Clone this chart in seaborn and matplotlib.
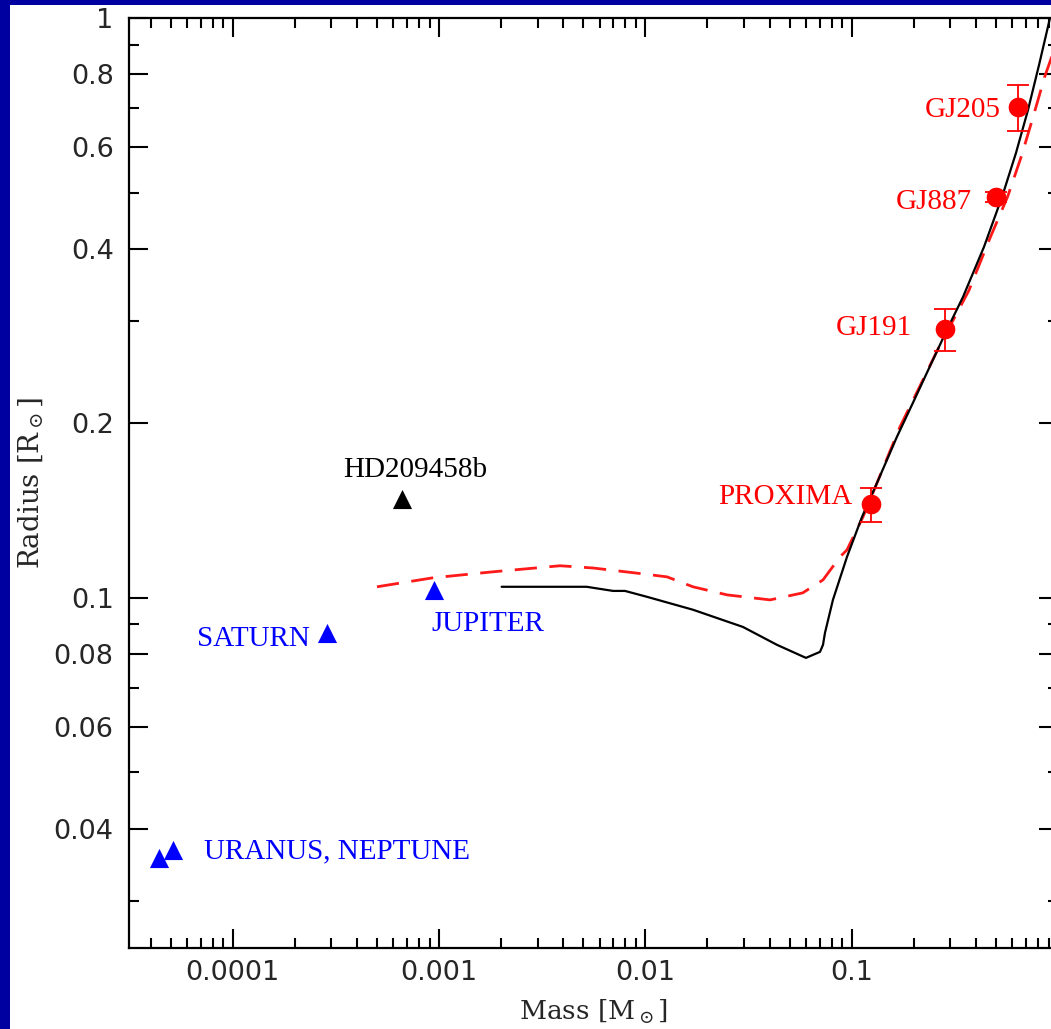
import numpy as np
import pandas as pd
import matplotlib
matplotlib.use("Agg")
import matplotlib.pyplot as plt
import seaborn as sns
from matplotlib.patches import Rectangle
from matplotlib.ticker import FixedLocator, FixedFormatter, NullFormatter

# Solar-system giant planets (mass in M_sun, radius in R_sun)
planet_names = ["URANUS", "NEPTUNE", "SATURN", "JUPITER"]
planet_mass = [4.37e-5, 5.15e-5, 2.86e-4, 9.5e-4]
planet_radius = [0.0356, 0.0367, 0.087, 0.103]

# Transiting hot Jupiter
hd_name = ["HD209458b"]
hd_mass = [6.6e-4]
hd_radius = [0.148]

# Low-mass stars with measured radii
star_names = ["PROXIMA", "GJ191", "GJ887", "GJ205"]
star_mass = [0.124, 0.283, 0.50, 0.64]
star_radius = [0.145, 0.291, 0.491, 0.702]
star_radius_err = [0.010, 0.024, 0.010, 0.063]

# Model mass-radius relation (solid)
solid_mass = [0.00201, 0.00519, 0.00697, 0.00796, 0.0102, 0.0170, 0.0297,
              0.0434, 0.0600, 0.0702, 0.0726, 0.0742, 0.0811, 0.0949,
              0.1122, 0.1327, 0.1656, 0.198, 0.2896, 0.3463, 0.4377,
              0.5353, 0.6257, 0.7154, 0.8091, 0.9145, 0.978]
solid_radius = [0.1045, 0.1045, 0.1028, 0.1028, 0.1004, 0.0954, 0.0891,
                0.0830, 0.0788, 0.0807, 0.0830, 0.0870, 0.0992, 0.1177,
                0.1379, 0.1579, 0.1895, 0.2169, 0.290, 0.3303, 0.4029,
                0.4912, 0.5852, 0.694, 0.8297, 1.0, 1.126]

# Model mass-radius relation (dashed)
dashed_mass = [0.000500, 0.000934, 0.001825, 0.003855, 0.00557, 0.00974,
               0.01273, 0.0170, 0.02487, 0.0402, 0.0579, 0.0726, 0.0878,
               0.0949, 0.1134, 0.1327, 0.1713, 0.268, 0.3700, 0.4650,
               0.5700, 0.6650, 0.7600, 0.8600, 1.0]
dashed_radius = [0.1045, 0.1083, 0.1109, 0.1136, 0.1126, 0.1100,
                 0.1087, 0.1045, 0.1012, 0.0992, 0.1020, 0.1074, 0.1177,
                 0.121, 0.1379, 0.1579, 0.1971, 0.273, 0.3390, 0.4150,
                 0.4920, 0.5780, 0.6780, 0.7900, 0.920]

# Tick layout
y_major = [0.04, 0.06, 0.08, 0.1, 0.2, 0.4, 0.6, 0.8, 1.0]
y_major_labels = ["0.04", "0.06", "0.08", "0.1", "0.2", "0.4", "0.6", "0.8", "1"]
y_minor = [0.03, 0.05, 0.07, 0.09, 0.3, 0.5, 0.7, 0.9]
x_major = [1e-4, 1e-3, 1e-2, 1e-1, 1.0]
x_major_labels = ["0.0001", "0.001", "0.01", "0.1", ""]

sns.set_style("ticks")
plt.rcParams["font.family"] = ["DejaVu Sans"]
plt.rcParams["mathtext.fontset"] = "dejavuserif"

W, H = 1051, 1029
fig = plt.figure(figsize=(W / 100, H / 100), dpi=100)
fig.patch.set_facecolor("#0000a0")
fig.patches.append(Rectangle((10 / W, 0), 1 - 10 / W, 1 - 5 / H,
                             transform=fig.transFigure, facecolor="white",
                             edgecolor="none", zorder=-5))

ax_l, ax_r, ax_t, ax_b = 129, 1058, 18, 948
ax = fig.add_axes([ax_l / W, 1 - ax_b / H, (ax_r - ax_l) / W, (ax_b - ax_t) / H])
ax.set_zorder(2)
ax.set_facecolor("white")
ax.set_xscale("log")
ax.set_yscale("log")

solid_df = pd.DataFrame({"mass": solid_mass, "radius": solid_radius})
dashed_df = pd.DataFrame({"mass": dashed_mass, "radius": dashed_radius})
sns.lineplot(data=dashed_df, x="mass", y="radius", sort=False, estimator=None,
             color="#ff1a1a", lw=2.0, ax=ax, zorder=3)
ax.lines[-1].set_dashes((8, 4.5))
sns.lineplot(data=solid_df, x="mass", y="radius", sort=False, estimator=None,
             color="black", lw=1.6, ax=ax, zorder=4)

planets_df = pd.DataFrame({"mass": planet_mass, "radius": planet_radius})
sns.scatterplot(data=planets_df, x="mass", y="radius", marker="^", s=190,
                color="#0000ff", linewidth=0, ax=ax, zorder=5)
hd_df = pd.DataFrame({"mass": hd_mass, "radius": hd_radius})
sns.scatterplot(data=hd_df, x="mass", y="radius", marker="^", s=190,
                color="black", linewidth=0, ax=ax, zorder=5)

ax.errorbar(star_mass, star_radius, yerr=star_radius_err, fmt="none",
            ecolor="#ff0000", elinewidth=1.3, capsize=8, capthick=1.3, zorder=5)
stars_df = pd.DataFrame({"mass": star_mass, "radius": star_radius})
sns.scatterplot(data=stars_df, x="mass", y="radius", marker="o", s=200,
                color="#ff0000", linewidth=0, ax=ax, zorder=6)

# Labels anchored to their markers (offsets in points)
lab_font = dict(family="Liberation Serif", size=21)


def label(text, x, y, dx, dy, color, ha):
    ax.annotate(text, xy=(x, y), xytext=(dx, dy), textcoords="offset points",
                ha=ha, va="center", color=color, **lab_font)


label("URANUS, NEPTUNE", planet_mass[1], planet_radius[1], 22.3, -0.7, "#0000ff", "left")
label("SATURN", planet_mass[2], planet_radius[2], -12.2, -4.3, "#0000ff", "right")
label("JUPITER", planet_mass[3], planet_radius[3], -2.4, -24.5, "#0000ff", "left")
label(hd_name[0], hd_mass[0], hd_radius[0], 10, 21, "black", "center")
star_offsets = [(-13, 5), (-23.8, 0.7), (-17.3, -3.6), (-12.2, -2.2)]
for name, m, r, (dx, dy) in zip(star_names, star_mass, star_radius, star_offsets):
    label(name, m, r, dx, dy, "#ff0000", "right")

ax.set_xlim(3.14e-5, 1.0)
ax.set_ylim(0.0249, 1.0)

x_minor = [k * 10.0 ** d for d in range(-5, 0) for k in range(2, 10)]
ax.xaxis.set_major_locator(FixedLocator(x_major))
ax.xaxis.set_major_formatter(FixedFormatter(x_major_labels))
ax.xaxis.set_minor_locator(FixedLocator(x_minor))
ax.xaxis.set_minor_formatter(NullFormatter())
ax.yaxis.set_major_locator(FixedLocator(y_major))
ax.yaxis.set_major_formatter(FixedFormatter(y_major_labels))
ax.yaxis.set_minor_locator(FixedLocator(y_minor))
ax.yaxis.set_minor_formatter(NullFormatter())

ax.tick_params(which="both", direction="in", top=True, right=True,
               color="black", width=1.5)
ax.tick_params(which="major", length=13.5, labelsize=19.5)
ax.tick_params(axis="x", which="major", pad=9)
ax.tick_params(axis="y", which="major", pad=11)
ax.tick_params(which="minor", length=7)
for s in ax.spines.values():
    s.set_linewidth(1.6)
    s.set_color("black")

ax.set_xlabel(r"Mass [M$_\odot$]", family="DejaVu Serif", size=19)
ax.set_ylabel(r"Radius [R$_\odot$]", family="DejaVu Serif", size=20)
ax.xaxis.label.set_va("center")
ax.yaxis.label.set_va("center")
ax.xaxis.set_label_coords(0.5, -0.069)
ax.yaxis.set_label_coords(-0.1055, 0.5)

fig.savefig("out.png", dpi=100, facecolor=fig.get_facecolor())
